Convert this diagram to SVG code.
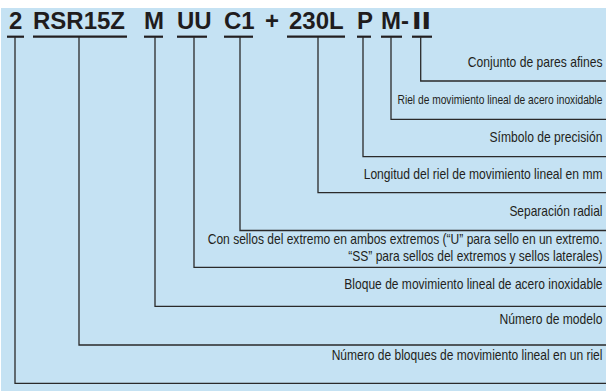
<svg xmlns="http://www.w3.org/2000/svg" width="606" height="391" viewBox="0 0 606 391">
<style>
.hd{font-family:"Liberation Sans",Arial,sans-serif;font-weight:bold;font-size:24px;fill:#1f1c1d}
.lb{font-family:"Liberation Sans",Arial,sans-serif;font-size:14px;fill:#231f20;text-anchor:end}
.ul{stroke:#231f20;stroke-width:2.2;fill:none}
.cn{stroke:#2a2a2a;stroke-width:1.3;fill:none}
</style>
<rect x="1" y="8" width="605" height="383" fill="#c5e2f3"/>
<g id="header">
<text class="hd" x="9" y="29">2</text>
<text class="hd" x="33" y="29">RSR15Z</text>
<text class="hd" x="144" y="29">M</text>
<text class="hd" x="177" y="29">UU</text>
<text class="hd" x="224" y="29">C1</text>
<text class="hd" x="265" y="29">+</text>
<text class="hd" x="289" y="29">230L</text>
<text class="hd" x="357" y="29">P</text>
<text class="hd" x="381" y="29">M-</text>
<text class="hd" x="412" y="29" textLength="19" lengthAdjust="spacingAndGlyphs">II</text>
<line class="ul" x1="7" y1="36.7" x2="24" y2="36.7"/>
<line class="ul" x1="33" y1="36.7" x2="127" y2="36.7"/>
<line class="ul" x1="144" y1="36.7" x2="163" y2="36.7"/>
<line class="ul" x1="177" y1="36.7" x2="207" y2="36.7"/>
<line class="ul" x1="224" y1="36.7" x2="253" y2="36.7"/>
<line class="ul" x1="287" y1="36.7" x2="345" y2="36.7"/>
<line class="ul" x1="357" y1="36.7" x2="371" y2="36.7"/>
<line class="ul" x1="381" y1="36.7" x2="402" y2="36.7"/>
<line class="ul" x1="412" y1="36.7" x2="432" y2="36.7"/>
</g>
<g id="connectors">
<polyline class="cn" points="420.7,37 420.7,81 606,81"/>
<polyline class="cn" points="391,37 391,119.3 606,119.3"/>
<polyline class="cn" points="363,37 363,156.7 606,156.7"/>
<polyline class="cn" points="318,37 318,192.7 606,192.7"/>
<polyline class="cn" points="240,37 240,230.5 606,230.5"/>
<polyline class="cn" points="194,37 194,267.3 606,267.3"/>
<polyline class="cn" points="155,37 155,306.3 606,306.3"/>
<polyline class="cn" points="79,37 79,345 606,345"/>
<polyline class="cn" points="15,37 15,383.3 606,383.3"/>
</g>
<g id="n-conjunto" transform="translate(602.5,66.7) scale(0.866,1)"><text class="lb">Conjunto de pares afines</text></g>
<g id="n-riel" transform="translate(602.5,104) scale(0.786,1)"><text class="lb" style="font-size:13px">Riel de movimiento lineal de acero inoxidable</text></g>
<g id="n-simbolo" transform="translate(602.5,142) scale(0.865,1)"><text class="lb">Símbolo de precisión</text></g>
<g id="n-longitud" transform="translate(602.5,179.3) scale(0.863,1)"><text class="lb">Longitud del riel de movimiento lineal en mm</text></g>
<g id="n-separacion" transform="translate(602.5,215.5) scale(0.855,1)"><text class="lb">Separación radial</text></g>
<g id="n-sellos" transform="translate(602.5,0) scale(0.861,1)">
<text class="lb" y="244">Con sellos del extremo en ambos extremos (“U” para sello en un extremo.</text>
<text class="lb" y="260.7">“SS” para sellos del extremos y sellos laterales)</text>
</g>
<g id="n-bloque" transform="translate(602.5,289) scale(0.86,1)"><text class="lb">Bloque de movimiento lineal de acero inoxidable</text></g>
<g id="n-modelo" transform="translate(602.5,324.3) scale(0.866,1)"><text class="lb">Número de modelo</text></g>
<g id="n-bloques" transform="translate(602.5,360) scale(0.86,1)"><text class="lb">Número de bloques de movimiento lineal en un riel</text></g>
</svg>
